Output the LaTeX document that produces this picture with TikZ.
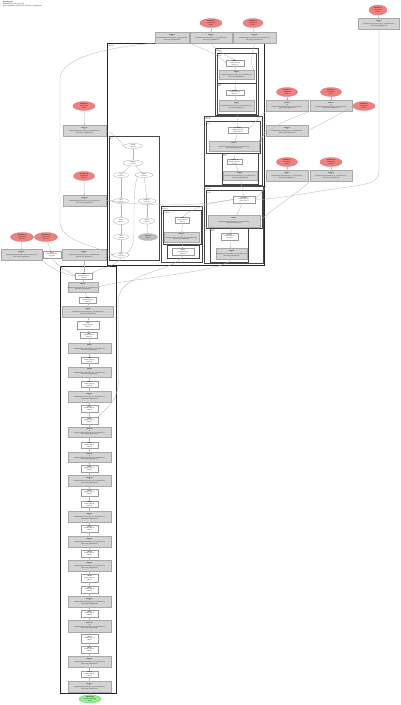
\documentclass[tikz,border=0pt]{standalone}
\usepackage{fontspec}
\setmainfont{Liberation Serif}
\usetikzlibrary{shapes.geometric,arrows.meta}
\definecolor{gfill}{HTML}{D3D3D3}
\definecolor{gline}{HTML}{A8A8A8}
\definecolor{wline}{HTML}{9A9A9A}
\definecolor{rfill}{HTML}{F08080}
\definecolor{rline}{HTML}{D46A6A}
\definecolor{grfill}{HTML}{90EE90}
\definecolor{grline}{HTML}{6CC46C}
\definecolor{edgec}{HTML}{B4B4B4}
\definecolor{cfill}{HTML}{BEBEBE}
\newcommand{\gtxt}[2]{\textbf{#1}\\#2\\f32[256,512]\{1,0\} fusion(p.0, p.1, p.2), kind=kLoop\\calls=fused\_computation.#2}
\newcommand{\wtxt}[2]{\textbf{#1}\\f32[256,512]\{1,0\}\\#2}
\newcommand{\rtxt}[1]{\textbf{Parameter #1}\\f32[256,512]\\param.#1}
\newcommand{\etxt}[2]{\textbf{#1}\\#2}
\begin{document}
\begin{tikzpicture}[x=1pt,y=-1pt,
  every node/.style={inner sep=0pt, outer sep=0pt, align=center, font=\fontsize{1.45}{1.75}\selectfont},
  sz/.style 2 args={minimum width=#1pt, minimum height=#2pt},
  gn/.style={rectangle, draw=gline, fill=gfill, line width=0.25pt},
  wn/.style={rectangle, draw=wline, fill=white, line width=0.25pt},
  rn/.style={ellipse, draw=rline, fill=rfill, line width=0.25pt},
  en/.style={ellipse, draw=wline, fill=white, line width=0.25pt, font=\fontsize{1.25}{1.5}\selectfont},
  cn/.style={ellipse, draw=gline, fill=cfill, line width=0.25pt, font=\fontsize{1.25}{1.5}\selectfont},
  grn/.style={ellipse, draw=grline, fill=grfill, line width=0.25pt},
  clus/.style={draw=black!72, line width=0.45pt},
  big/.style={draw=black!85, line width=0.7pt},
  clab/.style={anchor=north west, align=left, font=\fontsize{1.2}{1.45}\selectfont},
  edge/.style={draw=edgec, line width=0.3pt, -{Stealth[length=1.2pt,width=1pt]}},
]
\fill[white] (0,0) rectangle (400,705);
\useasboundingbox (0,0) rectangle (400,705);

% title
\node[anchor=north west, align=left, font=\fontsize{1.7}{2.1}\selectfont] (title) at (3,1)
  {\textbf{jit\_train\_step}\\HloModule jit\_train\_step.1234\\entry computation: main.5678, 36 fusions, 12 parameters};

% ---------------- clusters ----------------
\draw[big] (107,43) rectangle (264,265);
\node[clab] (lbig) at (108,44) {while.body\\computation};
\draw[clus] (109,136) rectangle (159,260);
\node[clab] (lL) at (110,137) {fused\_computation.2\\kLoop};
% cluster A
\draw[clus] (215,48) rectangle (258,115);
\node[clab] (lA) at (216,49) {while.cond.1\\computation};
\draw[clus] (217,53) rectangle (256,83);
\node[clab] (lA1) at (218,54) {fusion.3\\kInput};
\draw[clus] (217,83.5) rectangle (256,114);
\node[clab] (lA2) at (218,84.5) {fusion.4\\kInput};
% cluster B
\draw[clus] (204,116.5) rectangle (262,185);
\node[clab] (lB) at (205,117.5) {while.cond.2\\computation};
\draw[clus] (206,121) rectangle (260,153);
\node[clab] (lB1) at (207,122) {fusion.5\\kLoop};
\draw[clus] (222,153.5) rectangle (258,184);
\node[clab] (lB2) at (223,154.5) {fusion.6\\kLoop};
% cluster C
\draw[clus] (204,186) rectangle (263,263);
\node[clab] (lC) at (205,187) {while.cond.3\\computation};
\draw[clus] (206,190) rectangle (262,228);
\node[clab] (lC1) at (207,191) {fusion.7\\kOutput};
\draw[clus] (210,228.5) rectangle (248,262);
\node[clab] (lC2) at (211,229.5) {fusion.8\\kLoop};
% middle cluster
\draw[clus] (161,206) rectangle (202,262);
\node[clab] (lM) at (162,207) {conditional.1\\computation};
\draw[clus] (163,210) rectangle (201,244);
\node[clab] (lM1) at (164,211) {branch\_0\\computation};
\draw[clus] (167,245) rectangle (199,258);
\node[clab] (lM2) at (168,246) {branch\_1};
% bottom column cluster
\draw[big] (60,266) rectangle (116,693);
\node[clab] (lCol) at (61,267) {main.5678\\entry};

% ---------------- top nodes ----------------
\node[rn, sz={22}{9}] (R1) at (211,23) {\rtxt{1}};
\node[rn, sz={20}{9}] (R2) at (253,23) {\rtxt{2}};
\node[rn, sz={18}{10}] (R3) at (378,10) {\rtxt{3}};
\node[gn, sz={34}{11}] (G1) at (172,37.5) {\gtxt{fusion.10}{10}};
\node[gn, sz={42}{11}] (G2) at (211,37.5) {\gtxt{fusion.11}{11}};
\node[gn, sz={43}{11}] (G3) at (254.5,37.5) {\gtxt{fusion.12}{12}};
\node[gn, sz={41}{11}] (G4) at (379,23.5) {\gtxt{fusion.13}{13}};

% right side
\node[rn, sz={21}{9}] (R4) at (287,92) {\rtxt{4}};
\node[rn, sz={21}{9}] (R5) at (331,92) {\rtxt{5}};
\node[rn, sz={22}{9}] (R6) at (364,106) {\rtxt{6}};
\node[gn, sz={42}{11}] (G5) at (287,106) {\gtxt{fusion.14}{14}};
\node[gn, sz={42}{11}] (G6) at (331,106) {\gtxt{fusion.15}{15}};
\node[gn, sz={42}{11}] (G7) at (287,130.5) {\gtxt{fusion.16}{16}};
\node[rn, sz={21}{9}] (R7) at (287,162) {\rtxt{7}};
\node[rn, sz={22}{9}] (R8) at (331,162) {\rtxt{8}};
\node[gn, sz={42}{11}] (G8) at (287,175.5) {\gtxt{fusion.17}{17}};
\node[gn, sz={42}{11}] (G9) at (331,175.5) {\gtxt{fusion.18}{18}};

% left side
\node[rn, sz={22}{9}] (R9) at (84,106) {\rtxt{9}};
\node[gn, sz={43}{11}] (G10) at (84.5,130.5) {\gtxt{fusion.19}{19}};
\node[rn, sz={21}{9}] (R10) at (84,176) {\rtxt{10}};
\node[gn, sz={43}{11}] (G11) at (84.5,200.5) {\gtxt{fusion.20}{20}};
\node[rn, sz={23}{9}] (R11) at (22,237) {\rtxt{11}};
\node[rn, sz={23}{9}] (R12) at (46,237) {\rtxt{12}};
\node[gn, sz={41}{11}] (G12) at (21.5,254.5) {\gtxt{fusion.21}{21}};
\node[wn, sz={18}{7}] (W0) at (52,254.5) {\wtxt{copy.1}{copy(p.12)}};
\node[gn, sz={44}{11}] (G13) at (84,254.5) {\gtxt{fusion.22}{22}};

% ---------------- left cluster ellipses ----------------
\node[en, sz={19}{5}] (e1) at (133,146) {\etxt{param.0}{f32[256,512]}};
\node[en, sz={20}{6}] (e2) at (133,163) {\etxt{multiply.1}{f32[256,512]}};
\node[en, sz={15}{5}] (e3) at (121,175) {\etxt{exp.1}{f32[256,512]}};
\node[en, sz={18}{5}] (e4) at (144,175) {\etxt{negate.1}{f32[256,512]}};
\node[en, sz={15}{5}] (e5) at (121,201) {\etxt{add.1}{f32[256,512]}};
\node[en, sz={18}{5}] (e6) at (147,201) {\etxt{broadcast.1}{f32[256,512]}};
\node[en, sz={15}{7}] (e7) at (121,221) {\etxt{tanh.1}{f32[256,512]}};
\node[en, sz={15}{6}] (e8) at (147,221) {\etxt{divide.1}{f32[256,512]}};
\node[en, sz={15}{5}] (e9) at (121,237) {\etxt{sub.1}{f32[256,512]}};
\node[cn, sz={19}{7}] (e10) at (148,237) {\etxt{constant.1}{f32[] 0.5}};
\node[en, sz={16}{5}] (e11) at (121,255) {\etxt{select.1}{f32[256,512]}};

% ---------------- middle cluster ----------------
\node[wn, sz={14}{6}] (M1) at (182.5,220) {\wtxt{dot.1}{dot(a, b)}};
\node[gn, sz={35}{10}] (M2) at (181.5,237) {\gtxt{fusion.23}{23}};
\node[wn, sz={22}{7}] (M3) at (183,252) {\wtxt{tuple.1}{tuple(a, b)}};

% ---------------- right clusters ----------------
\node[wn, sz={18}{6}] (A1w) at (235,63) {\wtxt{reduce.1}{reduce(a, c)}};
\node[gn, sz={35}{9}] (A1g) at (236.5,74.5) {\gtxt{fusion.3}{3}};
\node[wn, sz={18}{5}] (A2w) at (235,92.5) {\wtxt{reduce.2}{reduce(a, c)}};
\node[gn, sz={35}{11}] (A2g) at (236.5,105.5) {\gtxt{fusion.4}{4}};
\node[wn, sz={20}{6}] (B1w) at (238,130) {\wtxt{get-tuple.1}{gte(p), index=0}};
\node[gn, sz={50}{10}] (B1g) at (234,146) {\gtxt{fusion.5}{5}};
\node[wn, sz={15}{5}] (B2w) at (234.5,162) {\wtxt{compare.1}{lt(a, b)}};
\node[gn, sz={34}{9}] (B2g) at (240,175.5) {\gtxt{fusion.6}{6}};
\node[wn, sz={22}{7}] (C1w) at (244,199.5) {\wtxt{get-tuple.2}{gte(p), index=1}};
\node[gn, sz={52}{12}] (C1g) at (234,221) {\gtxt{fusion.7}{7}};
\node[wn, sz={17}{7}] (C2w) at (229.5,236.5) {\wtxt{convert.1}{convert(a)}};
\node[gn, sz={31}{11}] (C2g) at (231.5,253.5) {\gtxt{fusion.8}{8}};

% ---------------- bottom column ----------------
\foreach \i/\x/\y/\w/\h in {1/84/276/17/6, 3/88/300/17/6, 5/88/325/22/8, 6/89/335.5/17/6,
  8/89.5/360/17/6, 10/89.5/384/17/6, 12/89.5/408.5/17/7, 13/89.5/420.5/17/7,
  15/89.5/445/17/6, 17/89.5/468.5/17/7, 19/89.5/492.5/17/7, 20/89.5/504/17/6,
  22/89.5/528.5/17/7, 24/89.5/553.5/17/7, 26/89.5/578/17/8, 27/89.5/589.5/17/7,
  29/89.5/613.5/17/7, 31/89.5/638.5/17/9, 32/89.5/649.5/17/7, 34/89.5/674/17/6}
  {\node[wn, sz={\w}{\h}] (c\i) at (\x,\y) {\wtxt{add.\i}{add(a, b)}};}
\foreach \i/\x/\y/\w/\h in {2/83/287/30/10, 4/88/311.5/51/11, 7/89.5/348/43/10, 9/89.5/372/43/10,
  11/89.5/396.5/43/11, 14/89.5/432/43/10, 16/89.5/457/43/10, 18/89.5/480.5/43/11,
  21/89.5/516.5/43/11, 23/89.5/541.5/43/11, 25/89.5/565.5/43/11, 28/89.5/601.5/43/11,
  30/89.5/626/43/12, 33/89.5/661.5/43/11, 35/89.5/686.5/43/11}
  {\node[gn, sz={\w}{\h}] (c\i) at (\x,\y) {\gtxt{fusion.\i}{\i}};}
\node[grn, sz={22}{8}] (root) at (90,699) {\textbf{ROOT tuple}\\(f32[256,512], f32[])\\output};

% ---------------- edges ----------------
\foreach \i in {1,...,34} {\pgfmathtruncatemacro\nxtc{\i+1}\draw[edge] (c\i) -- (c\nxtc);}
\draw[edge] (c35) -- (root);

\draw[edge] (R1) -- (G2);
\draw[edge] (R2) -- (G3);
\draw[edge] (R3) -- (G4);
\draw[edge] (R4) -- (G5);
\draw[edge] (R5) -- (G6);
\draw[edge] (R7) -- (G8);
\draw[edge] (R8) -- (G9);
\draw[edge] (R9) -- (G10);
\draw[edge] (R10) -- (G11);
\draw[edge] (R11) -- (G12);
\draw[edge] (R12) -- (W0);
\draw[edge] (R6.west) .. controls (340,114) and (325,122) .. (G7.east);

\draw[edge] (G1.south west) .. controls (120,46) and (62,55) .. (60,78) -- (60,222) .. controls (60,242) and (98,246) .. (e11.west);
\draw[edge] (G1.south east) .. controls (200,48) and (215,52) .. (A1w.west);
\draw[edge] (G2.south) .. controls (215,50) and (225,55) .. (A1w.north);
\draw[edge] (G3.south) .. controls (252,55) and (250,65) .. (A1g.north east);
\draw[edge] (G4.south) -- (379,170) .. controls (379,182) and (372,184) .. (340,188) .. controls (300,194) and (270,200) .. (C1w.east);
\draw[edge] (G5.south west) .. controls (262,114) and (255,122) .. (B1w.east);
\draw[edge] (G6.south west) .. controls (290,118) and (268,128) .. (B1g.north east);
\draw[edge] (G7.west) .. controls (262,134) and (262,140) .. (B1g.east);
\draw[edge] (G8.south west) .. controls (268,186) and (262,192) .. (C1w.east);
\draw[edge] (G9.south west) .. controls (300,192) and (270,210) .. (C1g.east);

\draw[edge] (G10.east) .. controls (115,134) and (122,143) .. (e1.west);
\draw[edge] (G11.east) .. controls (110,200) and (112,201) .. (e5.west);
\draw[edge] (G11.east) .. controls (150,207) and (200,206) .. (C1w.west);
\draw[edge] (G12.south east) .. controls (50,268) and (65,275) .. (c1.west);
\draw[edge] (W0.south) .. controls (56,266) and (70,272) .. (c1.west);
\draw[edge] (G13.south) -- (c1.north);
\draw[edge] (G13.east) .. controls (105,255) and (108,255) .. (e11.west);

% left cluster internal
\draw[edge] (e1) -- (e2);
\draw[edge] (e2) -- (e3);
\draw[edge] (e2) -- (e4);
\draw[edge] (e3) -- (e5);
\draw[edge] (e4) -- (e6);
\draw[edge] (e5) -- (e7);
\draw[edge] (e6) -- (e8);
\draw[edge] (e7) -- (e9);
\draw[edge] (e10) -- (e8);
\draw[edge] (e9) -- (e11);
\draw[edge] (e4.south west) .. controls (134,185) and (134,200) .. (134,230) .. controls (134,246) and (131,250) .. (e11.north east);
\draw[edge] (e11.south) .. controls (118,266) and (100,268) .. (c1.north east);

% right cluster internal
\draw[edge] (A1w) -- (A1g);
\draw[edge] (A1g) -- (A2w);
\draw[edge] (A2w) -- (A2g);
\draw[edge] (A2g) -- (B1w);
\draw[edge] (B1w) -- (B1g);
\draw[edge] (B1g) -- (B2w);
\draw[edge] (B2w) -- (B2g);
\draw[edge] (B2g) -- (C1w);
\draw[edge] (C1w) -- (C1g);
\draw[edge] (C1g) -- (C2w);
\draw[edge] (C2w) -- (C2g);
\draw[edge] (C1w.west) .. controls (205,203) and (190,210) .. (M1.north);
\draw[edge] (C2g.south) .. controls (225,272) and (130,278) .. (c2.east);

% middle cluster internal
\draw[edge] (M1) -- (M2);
\draw[edge] (M2) -- (M3);
\draw[edge] (M3.south) .. controls (175,272) and (119,272) .. (118.5,300) -- (118.5,380) .. controls (118.5,402) and (104,410) .. (c13.north east);
\end{tikzpicture}
\end{document}
